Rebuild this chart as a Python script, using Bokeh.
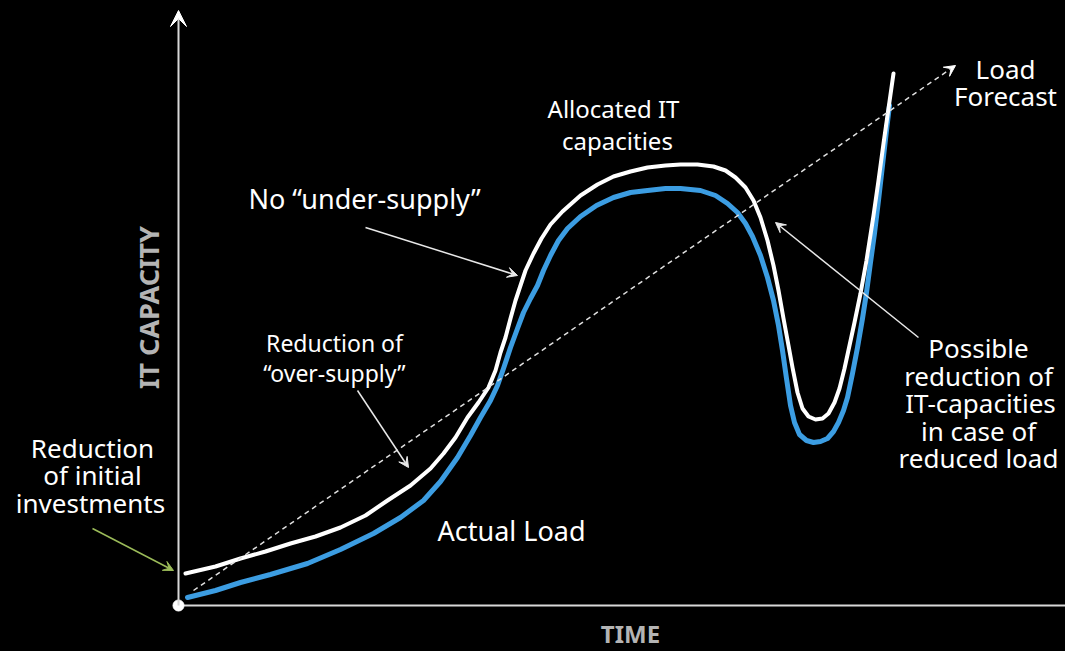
from bokeh.plotting import figure
from bokeh.models import Range1d, Arrow, VeeHead
from bokeh.core.properties import value
from bokeh.embed import file_html
from bokeh.resources import INLINE
import math

# ---- data (time, capacity) ----
alloc_t = [0.7, 3.7, 6.2, 8.7, 11.2, 13.7, 16.2, 18.7, 20.9, 23.2, 25.2, 26.5, 27.7, 28.9,
           30.0, 31.0, 31.7, 32.2, 32.7, 33.2, 33.7, 34.2, 34.7, 35.5, 36.3, 37.2, 38.4,
           40.2, 41.9, 43.5, 45.2, 46.9, 48.7, 50.2, 51.9, 53.5, 54.7, 55.7, 56.7, 57.5,
           58.2, 58.9, 59.5, 60.0, 60.5, 61.0, 61.4, 61.9, 62.4, 63.0, 63.7, 64.4, 65.0,
           65.6, 66.1, 66.6, 67.1, 67.6, 68.2, 68.8, 69.5, 70.0, 70.5, 71.0, 71.5]
alloc_c = [3.2, 3.9, 4.7, 5.4, 6.2, 6.9, 7.8, 9.0, 10.5, 12.0, 13.7, 15.2, 16.8, 18.8,
           20.3, 21.8, 23.5, 25.3, 26.8, 28.7, 30.5, 32.0, 33.5, 35.2, 36.7, 38.1, 39.4,
           41.0, 42.1, 42.9, 43.4, 43.8, 44.0, 44.1, 44.1, 43.9, 43.5, 42.8, 41.8, 40.5,
           38.8, 36.5, 34.0, 31.5, 28.7, 26.0, 23.8, 21.3, 19.7, 18.9, 18.6, 18.7, 19.2,
           20.3, 21.7, 23.7, 26.0, 28.3, 31.2, 34.5, 39.0, 42.5, 46.2, 49.7, 53.2]

load_t = [0.9, 3.7, 6.2, 9.2, 12.9, 16.2, 19.5, 22.2, 24.5, 26.2, 27.9, 29.2, 30.2, 31.2,
          31.9, 32.5, 33.2, 33.9, 34.5, 35.2, 35.9, 36.5, 37.2, 38.0, 38.9, 40.2, 41.8,
          43.5, 45.2, 46.9, 48.7, 50.2, 52.2, 53.7, 54.9, 55.9, 56.7, 57.4, 58.2, 58.9,
          59.5, 60.0, 60.4, 60.8, 61.2, 61.6, 62.1, 62.8, 63.5, 64.2, 64.9, 65.5, 66.0,
          66.5, 66.9, 67.4, 67.9, 68.4, 68.8, 69.2, 69.6, 70.0, 70.4, 70.8, 71.1]
load_c = [0.8, 1.5, 2.3, 3.1, 4.2, 5.6, 7.2, 8.8, 10.5, 12.4, 14.8, 17.0, 18.8, 20.5,
          22.0, 23.7, 25.8, 27.7, 29.3, 30.7, 32.0, 33.5, 35.0, 36.5, 37.7, 38.9, 40.0,
          40.8, 41.3, 41.5, 41.7, 41.7, 41.5, 41.0, 40.2, 39.3, 38.2, 36.9, 35.0, 32.8,
          30.5, 28.0, 25.5, 22.7, 20.0, 18.3, 17.1, 16.5, 16.3, 16.4, 16.7, 17.4, 18.3,
          19.5, 20.8, 23.2, 25.8, 28.7, 31.3, 34.3, 37.2, 40.5, 44.0, 47.5, 50.0]

forecast_t = [1.5, 77.7]
forecast_c = [1.5, 54.0]

# pointer arrows: (t_start, c_start, t_end, c_end)
ptr_under = [18.7, 37.8, 33.9, 33.0]
ptr_over = [17.9, 21.5, 23.0, 13.8]
ptr_initial = [-8.6, 7.7, -0.5, 3.5]
ptr_reduce = [74.0, 26.8, 59.7, 38.3]

# labels
alloc_labels = ["Allocated IT", "capacities"]
alloc_lt = [43.5, 43.9]
alloc_lc = [49.7, 46.5]

over_labels = ["Reduction of", "\u201cover-supply\u201d"]
over_lt = [15.6, 15.6]
over_lc = [26.3, 23.3]

big_labels = ["Reduction", "of initial", "investments", "Load", "Forecast",
              "Possible", "reduction of", "IT-capacities", "in case of", "reduced load"]
big_lt = [-8.6, -8.6, -8.8, 82.7, 82.7, 80.0, 80.0, 80.2, 80.0, 80.0]
big_lc = [15.8, 13.1, 10.3, 53.7, 51.0, 25.8, 23.0, 20.3, 17.5, 14.8]

left_labels = ["No \u201cunder-supply\u201d", "Actual Load"]
left_lt = [7.0, 25.9]
left_lc = [40.7, 7.5]

y_title = "IT CAPACITY"
x_title = "TIME"

# ---- figure ----
W, H = 1065, 651
p = figure(width=W, height=H, output_backend="svg", toolbar_location=None,
           x_range=Range1d(-17.8, 88.7), y_range=Range1d(-4.6, 60.5),
           min_border=0, background_fill_color="black", border_fill_color="black")
p.axis.visible = False
p.grid.visible = False
p.outline_line_color = None

axis_col = "#d8d8d8"
p.line([0, 88.7], [0, 0], line_color=axis_col, line_width=2)
p.add_layout(Arrow(end=VeeHead(size=16, fill_color="white", line_color="white"),
                   x_start=0, y_start=0, x_end=0, y_end=59.5,
                   line_color=axis_col, line_width=2))

p.add_layout(Arrow(end=VeeHead(size=11, fill_color="white", line_color="white", line_width=1),
                   x_start=forecast_t[0], y_start=forecast_c[0],
                   x_end=forecast_t[1], y_end=forecast_c[1],
                   line_color="#e0e0e0", line_width=1.5, line_dash="5 4"))

p.line(load_t, load_c, line_color="#3c9de2", line_width=5, line_join="round", line_cap="round")
p.line(alloc_t, alloc_c, line_color="white", line_width=4, line_join="round", line_cap="round")

p.scatter([0], [0], size=11, fill_color="white", line_color="white")

for ptr, col in [(ptr_under, "#e8e8e8"), (ptr_over, "#e8e8e8"),
                 (ptr_initial, "#9bbb59"), (ptr_reduce, "#e8e8e8")]:
    p.add_layout(Arrow(end=VeeHead(size=10, fill_color=col, line_color=col, line_width=1),
                       x_start=ptr[0], y_start=ptr[1], x_end=ptr[2], y_end=ptr[3],
                       line_color=col, line_width=1.5))

font = value("Noto Sans")
p.text(alloc_lt, alloc_lc, text=alloc_labels, text_color="white", text_font=font,
       text_font_size="24px", text_align="center", text_baseline="middle")
p.text(over_lt, over_lc, text=over_labels, text_color="white", text_font=font,
       text_font_size="23px", text_align="center", text_baseline="middle")
p.text(big_lt, big_lc, text=big_labels, text_color="white", text_font=font,
       text_font_size="26px", text_align="center", text_baseline="middle")
p.text(left_lt, left_lc, text=left_labels, text_color="white", text_font=font,
       text_font_size="27px", text_align="left", text_baseline="middle")

p.text([-3.0], [29.8], text=[y_title], angle=math.pi / 2, text_color="#b4b4b4",
       text_font=font, text_font_style="bold", text_font_size="27px",
       text_align="center", text_baseline="middle")
p.text([45.2], [-2.8], text=[x_title], text_color="#b4b4b4",
       text_font=font, text_font_style="bold", text_font_size="24px",
       text_align="center", text_baseline="middle")

html = file_html(p, INLINE).replace("</head>", "<style>body{background:#000;}</style></head>")
open("out.html", "w").write(html)
